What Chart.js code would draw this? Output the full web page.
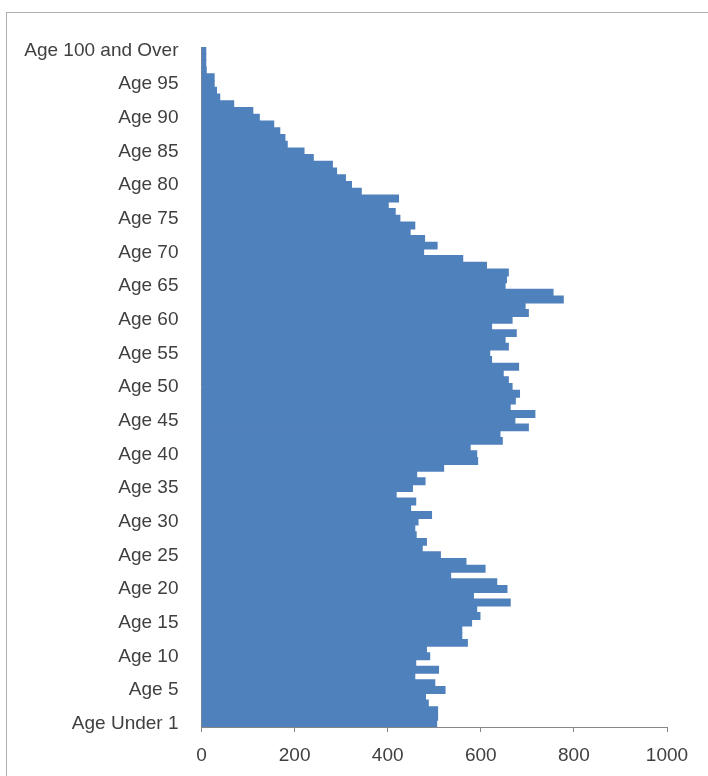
<!DOCTYPE html>
<html>
<head>
<meta charset="utf-8">
<script src="https://cdn.jsdelivr.net/npm/chart.js@4"></script>
<style>
  html, body { margin: 0; padding: 0; background: #fff; }
  #wrap { width: 708px; height: 776px; }
</style>
</head>
<body>
<div id="wrap"><canvas id="myChart" width="708" height="776"></canvas></div>
<script>
// data block (ages 0 .. 100, bottom to top)
const ages = [];
for (let a = 0; a <= 100; a++) ages.push(a);
const labels = ages.map(a => a === 0 ? 'Age Under 1' : (a === 100 ? 'Age 100 and Over' : 'Age ' + a));

const population = [
    505, 507, 507, 487, 481, 523, 501, 458, 509, 460,   // 0-9
    490, 483, 571, 559, 559, 580, 598, 591, 663, 584,   // 10-19
    656, 634, 535, 609, 568, 513, 474, 483, 461, 458,   // 20-29
    465, 494, 449, 460, 418, 453, 480, 462, 520, 593,   // 30-39
    591, 577, 646, 641, 702, 673, 716, 663, 674, 683,   // 40-49
    667, 659, 648, 681, 623, 619, 659, 652, 676, 623,   // 50-59
    667, 702, 695, 777, 755, 652, 655, 659, 612, 561,   // 60-69
    477, 506, 479, 448, 458, 426, 416, 401, 423, 343,   // 70-79
    322, 309, 290, 281, 240, 220, 184, 179, 168, 155,   // 80-89
    124, 110, 69, 39, 32, 27, 27, 10, 9, 9,             // 90-99
    9                                                   // 100+
];

const xTicks = [0, 200, 400, 600, 800, 1000];

// border around the whole chart, like the excel chart frame
const frame = {
    id: 'frame',
    beforeDraw(chart) {
        const ctx = chart.ctx;
        ctx.save();
        ctx.strokeStyle = '#b0b0b0';
        ctx.lineWidth = 1;
        ctx.strokeRect(6.5, 12.5, 760, 800);
        ctx.restore();
    }
};

const data = {
    labels: labels,
    datasets: [{
        label: 'Population',
        backgroundColor: '#4F81BD',
        borderWidth: 0,
        inflateAmount: 0.6,
        barPercentage: 1,
        categoryPercentage: 1,
        data: population
    }]
};

const config = {
    type: 'bar',
    data: data,
    plugins: [frame],
    options: {
        indexAxis: 'y',
        responsive: false,
        animation: false,
        layout: { padding: { top: 47, right: 41, left: 0, bottom: 0 } },
        plugins: {
            legend: { display: false },
            tooltip: { enabled: false }
        },
        scales: {
            x: {
                min: 0,
                max: 1000,
                afterBuildTicks(scale) {
                    scale.ticks = xTicks.map(v => ({ value: v }));
                },
                afterFit(scale) { scale.height = 49; },
                grid: {
                    drawOnChartArea: false,
                    tickLength: 5,
                    color: '#868686'
                },
                border: { color: '#868686' },
                ticks: {
                    color: '#404040',
                    padding: 12,
                    font: { family: 'Liberation Sans', size: 19 },
                    callback: v => String(v)
                }
            },
            y: {
                reverse: true,
                afterFit(scale) { scale.width = 201.5; },
                grid: { display: false },
                border: { display: true, color: '#868686' },
                ticks: {
                    autoSkip: false,
                    color: '#404040',
                    padding: 15,
                    font: { family: 'Liberation Sans', size: 19 },
                    callback: function (val, i) {
                        return ages[i] % 5 === 0 ? labels[i] : '';
                    }
                }
            }
        }
    }
};

const myChart = new Chart(document.getElementById('myChart'), config);
</script>
</body>
</html>
